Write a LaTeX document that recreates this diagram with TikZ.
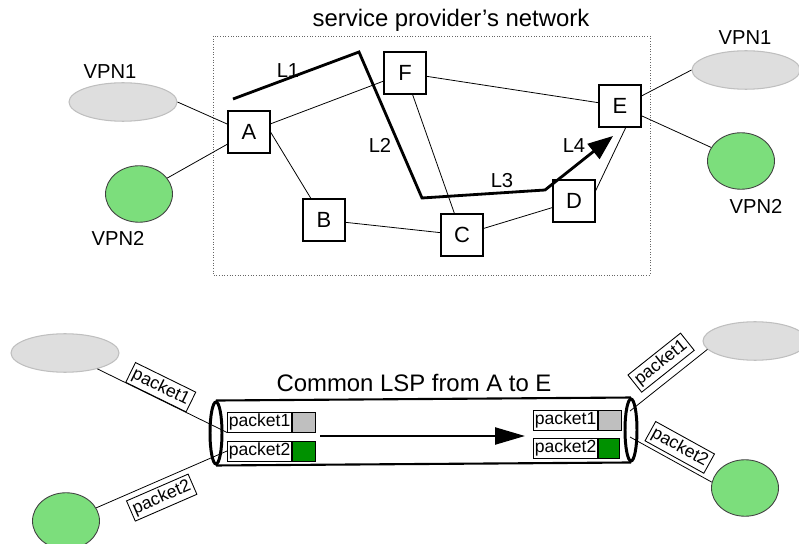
\documentclass[tikz,border=0pt]{standalone}
\usepackage{fontspec}
\setmainfont{Liberation Sans}
\usetikzlibrary{positioning,shapes.geometric,arrows.meta}
\definecolor{vpngray}{RGB}{222,222,222}
\definecolor{vpngreen}{RGB}{124,222,124}
\definecolor{pktgreen}{RGB}{0,145,0}
\begin{document}
\begin{tikzpicture}[x=0.02cm,y=-0.02cm,
    router/.style={draw,rectangle,minimum size=0.84cm,inner sep=0pt,line width=0.6pt,font=\fontsize{12.5}{14}\selectfont},
    vpnone/.style={ellipse,fill=vpngray,draw=black!25,line width=0.6pt,minimum width=2.16cm,minimum height=0.77cm},
    vpntwo/.style={ellipse,fill=vpngreen,draw=black!75,line width=0.5pt,minimum width=1.34cm,minimum height=1.13cm},
    txt/.style={inner sep=0pt,font=\fontsize{11.5}{13}\selectfont},
    ttl/.style={inner sep=0pt,font=\fontsize{13.6}{16}\selectfont},
    link/.style={line width=0.45pt},
    lsp/.style={line width=1.6pt},
    pkt/.style={draw,rectangle,inner xsep=0.8pt,inner ysep=0pt,minimum height=0.4cm,line width=0.5pt,font=\fontsize{10}{12}\selectfont},
    sq/.style={draw,rectangle,minimum width=0.46cm,minimum height=0.4cm,inner sep=0pt,line width=0.5pt},
    tag/.style={draw,rectangle,inner sep=1.6pt,sloped,line width=0.5pt,font=\fontsize{10}{12}\selectfont},
    tubeend/.style={ellipse,draw,line width=1.7pt,minimum width=0.24cm,minimum height=1.24cm,inner sep=0pt}]
    \useasboundingbox (0,0) rectangle (799,544);
    \clip (0,0) rectangle (799,544);

    %NETWORK
    \node[ttl] (net) at (451,20) {service provider's network};
    \draw[densely dotted,black!60,line width=0.5pt] (213,36) rectangle (650,275);

    %NODE
    \node[router] (A) at (249,132) {A};
    \node[router] (B) at (324,220) {B};
    \node[router] (C) at (462,235) {C};
    \node[router] (D) at (574,201) {D};
    \node[router] (E) at (620,106) {E};
    \node[router] (F) at (405,73) {F};

    \node[vpnone] (v1l) at (123,102) {};
    \node[vpntwo] (v2l) at (139,194) {};
    \node[vpnone] (v1r) at (746,70) {};
    \node[vpntwo] (v2r) at (741,161) {};
    \node[txt] (n1l) at (110,72) {VPN1};
    \node[txt] (n2l) at (118,238) {VPN2};
    \node[txt] (n1r) at (745,38) {VPN1};
    \node[txt] (n2r) at (756,206) {VPN2};

    %EDGE
    \draw[link] (A) -- (F);
    \draw[link] (A.east) -- (B);
    \draw[link] (B) -- (C);
    \draw[link] (F) -- (C);
    \draw[link] (F) -- (E);
    \draw[link] (C) -- (D);
    \draw[link] (D.25) -- (E.-75);
    \draw[link] (v1l.east) -- (A.160);
    \draw[link] (v2l) -- (A);
    \draw[link] (E.25) -- (v1r.west);
    \draw[link] (E) -- (v2r);

    %LSP
    \coordinate (l0) at (233,99);
    \coordinate (l1) at (359,52);
    \coordinate (l2) at (422,198);
    \coordinate (l3) at (545,190);
    \coordinate (l4) at (613,136);
    \draw[lsp,-{Triangle[length=0.5cm,width=0.38cm]}] (l0) -- (l1) -- (l2) -- (l3) -- (l4);
    \node[txt] (L1) at (288,71) {L1};
    \node[txt] (L2) at (380,145) {L2};
    \node[txt] (L3) at (502,181) {L3};
    \node[txt] (L4) at (574,146) {L4};

    %TUNNEL
    \node[ttl] (com) at (414,383) {Common LSP from A to E};
    \node[tubeend] (tl) at (216,433) {};
    \node[tubeend] (tr) at (631,430) {};
    \draw[line width=1.2pt] (tl.north) -- (tr.north);
    \draw[line width=1.2pt] (tl.south) -- (tr.south);

    \node[pkt,anchor=west] (p1l) at (227,422) {packet1};
    \node[sq,fill=black!25,right=0pt of p1l] (s1l) {};
    \node[pkt,anchor=west] (p2l) at (227,451) {packet2};
    \node[sq,fill=pktgreen,right=0pt of p2l] (s2l) {};
    \node[pkt,anchor=west] (p1r) at (533,420) {packet1};
    \node[sq,fill=black!25,right=0pt of p1r] (s1r) {};
    \node[pkt,anchor=west] (p2r) at (533,448) {packet2};
    \node[sq,fill=pktgreen,right=0pt of p2r,minimum width=0.42cm] (s2r) {};

    \coordinate (as) at (320,436);
    \coordinate (ae) at (525,436);
    \draw[line width=1.3pt,-{Triangle[length=0.6cm,width=0.34cm]}] (as) -- (ae);

    %SITES
    \node[vpnone] (g1l) at (65,353) {};
    \node[vpntwo] (g2l) at (66,521) {};
    \node[vpnone,minimum width=2.08cm] (g1r) at (755,341) {};
    \node[vpntwo] (g2r) at (745,488) {};
    \coordinate (t1) at (630,411);
    \coordinate (t2) at (630,437);

    \draw[link] (g1l) -- node[tag,above=0pt,pos=0.45] (k1l) {packet1} (p1l.south west);
    \draw[link] (g2l) -- node[tag,below=3pt,pos=0.45] (k2l) {packet2} (p2l.west);
    \draw[link] (t1) -- node[tag,above=4pt,pos=0.55] (k1r) {packet1} (g1r.190);
    \draw[link] (t2) -- node[tag,above=2pt,pos=0.52] (k2r) {packet2} (g2r.170);
\end{tikzpicture}
\end{document}
